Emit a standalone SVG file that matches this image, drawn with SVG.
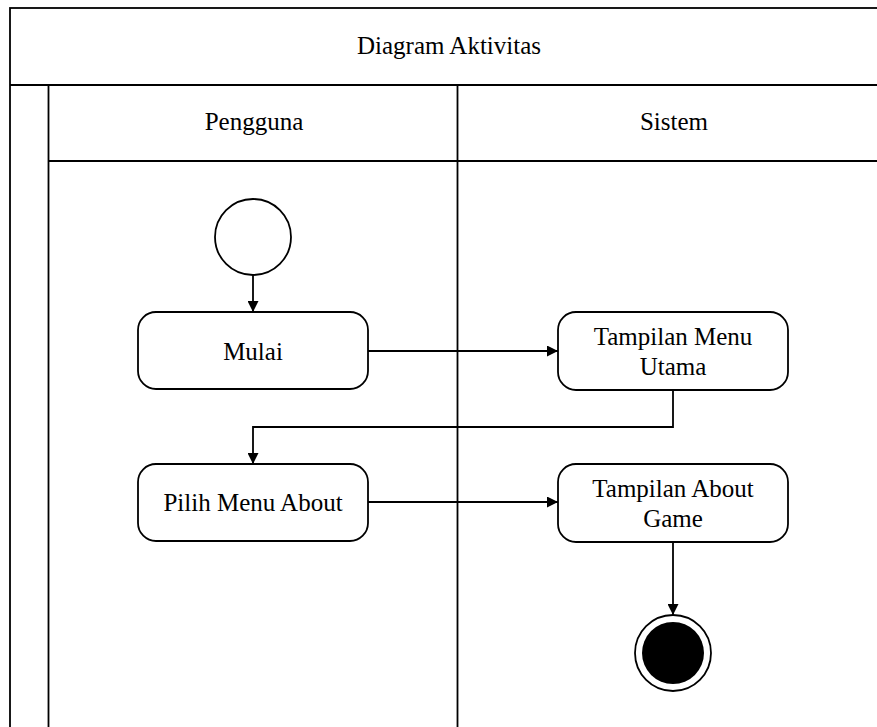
<svg xmlns="http://www.w3.org/2000/svg" width="877" height="727" viewBox="0 0 877 727">
<style>
.ln{fill:none;stroke:#000;stroke-width:1.8}
.box{fill:#fff;stroke:#000;stroke-width:1.8}
text{font-family:'Liberation Serif','Times New Roman',serif;font-size:25px;fill:#000;text-anchor:middle}
</style>
<defs>
<marker id="ah" viewBox="0 0 10 10" refX="10" refY="5" markerWidth="11" markerHeight="11" markerUnits="userSpaceOnUse" orient="auto">
<path d="M0,0 L10,5 L0,10 Z" fill="#000"/>
</marker>
</defs>
<rect width="877" height="727" fill="#fff"/>
<g id="frame">
<rect class="box" x="10" y="8" width="880" height="730"/>
<line class="ln" x1="10" y1="85" x2="877" y2="85"/>
<line class="ln" x1="48.5" y1="85" x2="48.5" y2="727"/>
<line class="ln" x1="48.5" y1="161" x2="877" y2="161"/>
<line class="ln" x1="457.5" y1="85" x2="457.5" y2="727"/>
<text x="449" y="54">Diagram Aktivitas</text>
</g>
<g id="lane-pengguna"><text x="254" y="130">Pengguna</text></g>
<g id="lane-sistem"><text x="674" y="130">Sistem</text></g>
<g id="connectors">
<line class="ln" x1="253" y1="275" x2="253" y2="312" marker-end="url(#ah)"/>
<line class="ln" x1="368" y1="351" x2="558" y2="351" marker-end="url(#ah)"/>
<polyline class="ln" points="673,390 673,427 253,427 253,464" marker-end="url(#ah)"/>
<line class="ln" x1="368" y1="502" x2="558" y2="502" marker-end="url(#ah)"/>
<line class="ln" x1="673" y1="542" x2="673" y2="615" marker-end="url(#ah)"/>
</g>
<g id="start"><circle class="box" cx="253" cy="237" r="38"/></g>
<g id="mulai"><rect class="box" x="138" y="312" width="230" height="77" rx="18"/><text x="253" y="360">Mulai</text></g>
<g id="menu-utama"><rect class="box" x="558" y="312" width="230" height="78" rx="18"/><text x="673" y="345">Tampilan Menu</text><text x="673" y="375">Utama</text></g>
<g id="pilih-about"><rect class="box" x="138" y="464" width="230" height="77" rx="18"/><text x="253" y="511">Pilih Menu About</text></g>
<g id="tampilan-about"><rect class="box" x="558" y="464" width="230" height="78" rx="18"/><text x="673" y="497">Tampilan About</text><text x="673" y="527">Game</text></g>
<g id="end"><circle class="box" cx="673" cy="653" r="38"/><circle cx="673" cy="653" r="31" fill="#000"/></g>
</svg>
